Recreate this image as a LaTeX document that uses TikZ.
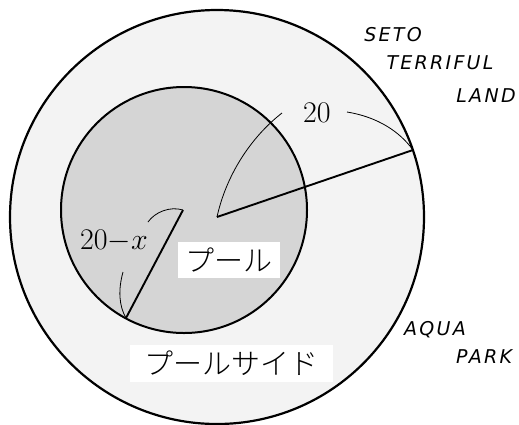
\RequirePackage{fix-cm}
\documentclass[tikz,border=0pt]{standalone}
\usepackage{fontspec}
\newfontfamily\jpfont[UprightFont=* Light]{Noto Sans CJK JP}
\newfontfamily\labfont[LetterSpace=12]{DejaVu Sans}
\definecolor{outerfill}{HTML}{F3F3F3}
\definecolor{innerfill}{HTML}{D5D5D5}
\begin{document}
\begin{tikzpicture}[x=1pt,y=-1pt,
  ring/.style={circle,draw=black,inner sep=0pt},
  radius line/.style={line width=1.9pt},
  leader/.style={line width=0.8pt},
  jpbox/.style={fill=white,inner sep=0pt,font=\jpfont\fontsize{29}{31}\selectfont},
  place/.style={font=\labfont\itshape\fontsize{19}{21}\selectfont,inner sep=0pt},
  mathlab/.style={font=\fontsize{30}{34}\selectfont,inner sep=0pt}]
\useasboundingbox (0,0) rectangle (519,424);
% circles
\node[ring,fill=outerfill,line width=2.2pt,minimum size=414pt] (outer) at (217,217) {};
\node[ring,fill=innerfill,line width=2pt,minimum size=246pt] (inner) at (184,210) {};
% key points
\coordinate (O) at (217,217);
\coordinate (A) at (413,150);
\coordinate (I) at (183,210);
\coordinate (B) at (126,318);
% radii
\draw[radius line] (O) -- (A);
\draw[radius line] (I) -- (B);
% labels
\node[mathlab] (t20) at (317,113) {$20$};
\node[mathlab] (t20x) at (114,241) {$20{-}x$};
\coordinate (L1) at (282,113);
\coordinate (L2) at (347,112);
\coordinate (L3) at (148,222);
\coordinate (L4) at (123,272);
\draw[leader] (L1) .. controls (250,138) and (226,176) .. (O);
\draw[leader] (L2) .. controls (378,117) and (400,132) .. (A);
\draw[leader] (L3) .. controls (155,212) and (170,206) .. (I);
\draw[leader] (L4) .. controls (118,290) and (119,306) .. (B);
% Japanese labels
\node[jpbox,minimum width=102pt,minimum height=36pt] (pool) at (229,260) {プール};
\node[jpbox,minimum width=203pt,minimum height=37pt] (side) at (231.5,363.5) {プールサイド};
% place names
\node[place] (seto) at (393,35) {SETO};
\node[place] (terr) at (440,63) {TERRIFUL};
\node[place] (land) at (486,96) {LAND};
\node[place] (aqua) at (435,330) {AQUA};
\node[place] (park) at (484,357) {PARK};
\end{tikzpicture}
\end{document}
